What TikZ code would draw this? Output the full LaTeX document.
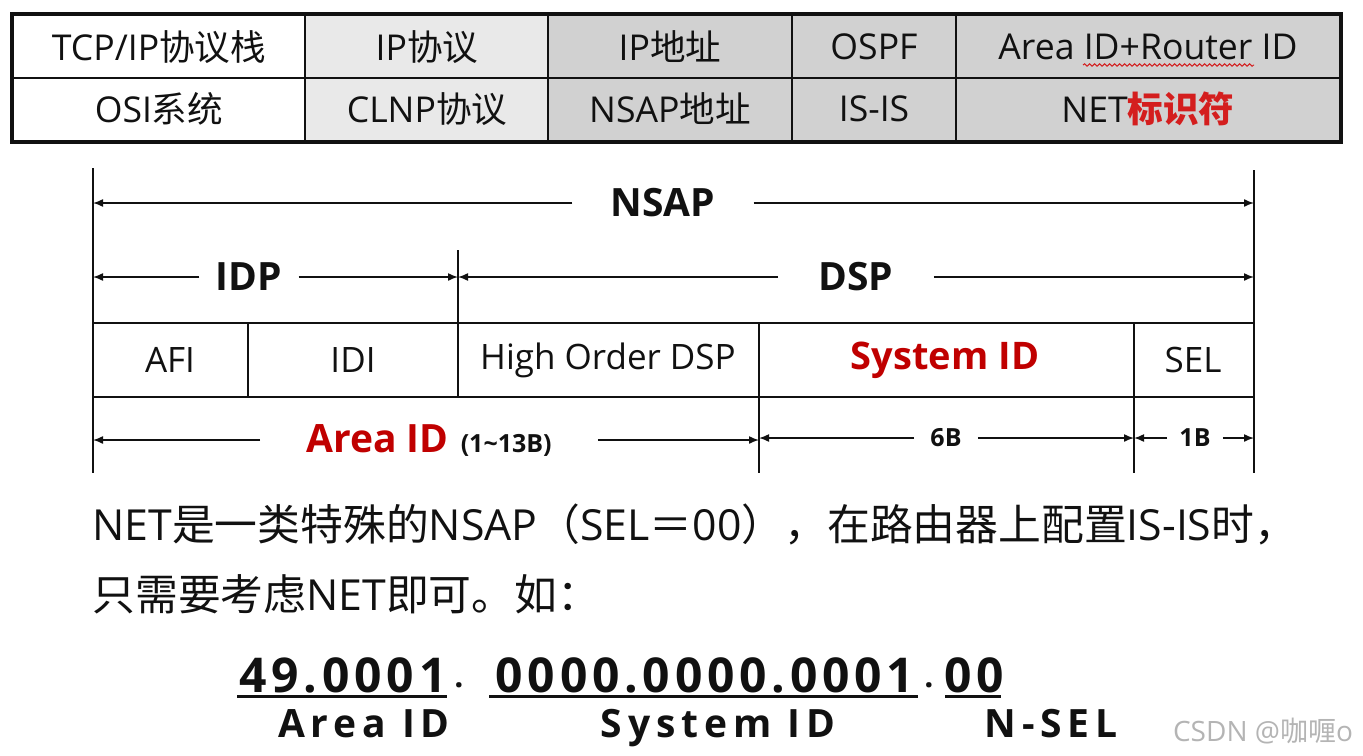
\documentclass[tikz,border=0pt]{standalone}
\usepackage{fontspec}
\setmainfont{Open Sans}
\newfontfamily\cjk{Noto Sans CJK SC}
\newfontfamily\widefont[LetterSpace=10]{Open Sans}
\newfontfamily\widerfont[LetterSpace=15]{Open Sans}
\usepackage{tikz}
\usetikzlibrary{arrows.meta,positioning,decorations.pathmorphing}
\definecolor{ink}{HTML}{111111}
\definecolor{netred}{HTML}{C00000}
\definecolor{brightred}{HTML}{D41E1E}
\definecolor{lightcell}{HTML}{E9E9E9}
\definecolor{darkcell}{HTML}{D1D1D1}
\definecolor{marktext}{HTML}{B4B4B4}
\newcommand{\zh}[1]{{\cjk #1}}
\tikzset{
    gridline/.style={draw=ink,line width=0.9pt},
    frameline/.style={draw=ink,line width=2pt},
    tabtext/.style={font=\fontsize{17.8}{20}\selectfont,text=ink,inner sep=0pt},
    fieldtext/.style={font=\fontsize{17.5}{20}\selectfont,text=ink,inner sep=0pt},
    dimline/.style={draw=ink,line width=0.75pt},
    dimarrow/.style={dimline,-{Latex[length=5pt,width=4pt]}},
    spanlabel/.style={font=\bfseries\fontsize{19.5}{22}\selectfont,text=ink,inner ysep=0pt},
    sizelabel/.style={font=\bfseries\fontsize{12.5}{14}\selectfont,text=ink,inner ysep=0pt},
    bodytext/.style={font=\fontsize{21.4}{25}\selectfont,text=ink,inner sep=0pt,anchor=base west},
    netdigits/.style={font=\widefont\bfseries\fontsize{24}{26}\selectfont,text=ink,inner sep=0pt,anchor=base},
    netpart/.style={font=\widerfont\bfseries\fontsize{19.5}{22}\selectfont,text=ink,inner sep=0pt,anchor=base},
    underbar/.style={draw=ink,line width=1.5pt}
}

\begin{document}
\begin{tikzpicture}[x=0.5pt,y=-0.5pt]
  \useasboundingbox (0,0) rectangle (1363,755);
  % comparison table
  \fill[lightcell] (305,14) rectangle (548,142);
  \fill[darkcell] (548,14) rectangle (1341,142);
  \draw[gridline] (12,78) -- (1341,78);
  \foreach \x in {305,548,792,956}
    \draw[gridline] (\x,14) -- (\x,142);
  \draw[frameline] (12,14) rectangle (1341,142);
  \node[tabtext] (tcpip) at (159,47) {TCP/IP\zh{协议栈}};
  \node[tabtext] (ipproto) at (427,47) {IP\zh{协议}};
  \node[tabtext] (ipaddr) at (670,47) {IP\zh{地址}};
  \node[tabtext] (ospf) at (874,47) {OSPF};
  \node[tabtext] (routerid) at (1148,47) {Area ID+Router ID};
  \node[tabtext] (osi) at (159,109) {OSI\zh{系统}};
  \node[tabtext] (clnp) at (427,109) {CLNP\zh{协议}};
  \node[tabtext] (nsapaddr) at (670,109) {NSAP\zh{地址}};
  \node[tabtext] (isis) at (874,109) {IS-IS};
  \node[tabtext] (netid) at (1148,109) {NET{\cjk\bfseries\color{brightred}标识符}};
  \draw[brightred,line width=0.5pt,decorate,
    decoration={snake,amplitude=0.6pt,segment length=2.5pt}]
    (1083,65) -- (1254,65);

  % NSAP layout
  \coordinate (topL) at (93,168);
  \coordinate (botL) at (93,473);
  \coordinate (topR) at (1254,170);
  \coordinate (botR) at (1254,473);
  \coordinate (idpTop) at (458,250);
  \coordinate (idpBot) at (458,397);
  \coordinate (sysTop) at (759,323);
  \coordinate (sysBot) at (759,473);
  \coordinate (selTop) at (1134,323);
  \coordinate (selBot) at (1134,473);
  \draw[dimline] (topL) -- (botL) (topR) -- (botR);
  \draw[dimline] (idpTop) -- (idpBot) (sysTop) -- (sysBot) (selTop) -- (selBot);
  \draw[dimline] (93,323) rectangle (1254,397);
  \draw[dimline] (248,323) -- (248,397);

  \node[spanlabel,inner xsep=19pt] (nsap) at (663,203) {NSAP};
  \draw[dimarrow] (nsap.west) -- (nsap.west -| topL);
  \draw[dimarrow] (nsap.east) -- (nsap.east -| topR);
  \node[spanlabel,inner xsep=8pt] (idp) at (249,277) {IDP};
  \draw[dimarrow] (idp.west) -- (idp.west -| topL);
  \draw[dimarrow] (idp.east) -- (idp.east -| idpTop);
  \node[spanlabel,inner xsep=20pt] (dsp) at (856,277) {DSP};
  \draw[dimarrow] (dsp.west) -- (dsp.west -| idpTop);
  \draw[dimarrow] (dsp.east) -- (dsp.east -| topR);

  \node[fieldtext] (afi) at (170,360) {AFI};
  \node[fieldtext] (idi) at (353,360) {IDI};
  \node[fieldtext] (hodsp) at (608,360) {High Order DSP};
  \node[fieldtext,font=\bfseries\fontsize{19}{21}\selectfont,text=netred] (sysid) at (945,360) {System ID};
  \node[fieldtext] (sel) at (1193,360) {SEL};

  \node[spanlabel,inner xsep=23pt] (areaid) at (429,440)
    {{\color{netred}\fontsize{19.5}{22}\selectfont Area ID}\hspace{6pt}{\fontsize{12.5}{14}\selectfont(1\textasciitilde13B)}};
  \draw[dimarrow] (areaid.west) -- (areaid.west -| botL);
  \draw[dimarrow] (areaid.east) -- (areaid.east -| sysBot);
  \node[sizelabel,inner xsep=8pt] (sixb) at (946,438) {6B};
  \draw[dimarrow] (sixb.west) -- (sixb.west -| sysBot);
  \draw[dimarrow] (sixb.east) -- (sixb.east -| selBot);
  \node[sizelabel,inner xsep=6pt] (oneb) at (1195,438) {1B};
  \draw[dimarrow] (oneb.west) -- (oneb.west -| selBot);
  \draw[dimarrow] (oneb.east) -- (oneb.east -| botR);

  % explanation
  \node[bodytext] (line1) at (92,540)
    {NET\zh{是一类特殊的}NSAP\zh{（}SEL\zh{＝}00\zh{），在路由器上配置}IS-IS\zh{时，}};
  \node[bodytext] (line2) at (92,610) {\zh{只需要考虑}NET\zh{即可。如：}};

  % example NET
  \node[netdigits] (areanum) at (343,692) {49.0001};
  \node[netdigits,font=\bfseries\fontsize{16}{18}\selectfont] (dotA) at (459,687) {.};
  \node[netdigits] (sysnum) at (705,692) {0000.0000.0001};
  \node[netdigits,font=\bfseries\fontsize{16}{18}\selectfont] (dotB) at (929,687) {.};
  \node[netdigits] (selnum) at (974,692) {00};
  \draw[underbar] (237,696) -- (447,696);
  \draw[underbar] (489,696) -- (918,696);
  \draw[underbar] (945,696) -- (1001,696);
  \node[netpart] (arealbl) at (364,737) {Area ID};
  \node[netpart] (syslbl) at (718,737) {System ID};
  \node[netpart] (sellbl) at (1051,737) {N-SEL};

  \node[font=\fontsize{14}{16}\selectfont,text=marktext,inner sep=0pt] (mark) at (1263,731) {CSDN @\zh{咖喱}o};
\end{tikzpicture}
\end{document}
